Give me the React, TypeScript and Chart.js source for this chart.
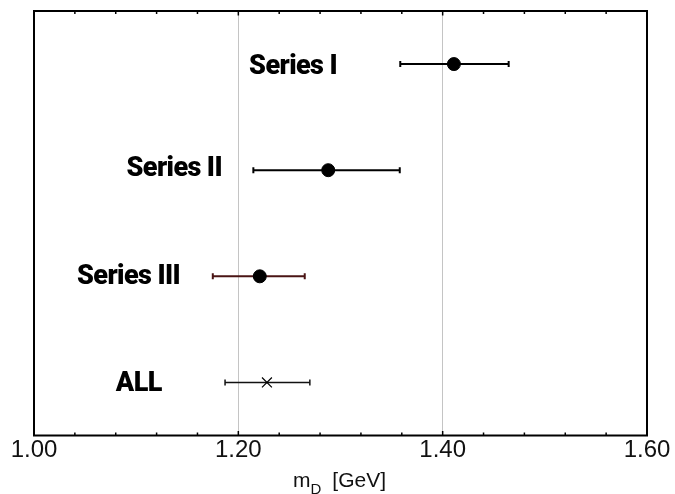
import React, { useEffect, useRef } from "react";
import { Chart, registerables } from "chart.js";

Chart.register(...registerables);

// ---- data ----
const seriesNames = ["Series I", "Series II", "Series III", "ALL"];
const rowY = [4, 3, 2, 1];
const centralValues = [1.411, 1.288, 1.221, 1.228];
const lowerValues = [1.3585, 1.2147, 1.175, 1.187];
const upperValues = [1.4646, 1.358, 1.265, 1.27];
const labelAnchorX = [1.2966, 1.184, 1.143, 1.125];
const labelAnchorY = [4.0, 3.035, 2.02, 1.01];
const xTickLabels = ["1.00", "1.20", "1.40", "1.60"];
const gridValues = [1.2, 1.4];
const xMin = 1.0;
const xMax = 1.6;
const yMin = 0.5;
const yMax = 4.5;
const minorStep = 0.04;

// ---- styles ----
const barColors = ["#000000", "#000000", "#4a1414", "#111111"];
const barWidths = [2, 2, 2, 1.5];
const markerStyles = ["circle", "circle", "circle", "crossRot"];
const markerRadii = [6.5, 6.5, 6.5, 7];

const framePlugin = {
  id: "framePlugin",
  afterDraw(chart: any) {
    const { ctx, chartArea } = chart;
    const xs = chart.scales.x;
    const ys = chart.scales.y;
    ctx.save();
    // series labels
    ctx.fillStyle = "#000";
    ctx.font = "900 27px Roboto, 'Noto Sans', sans-serif";
    try {
      (ctx as any).letterSpacing = "-0.6px";
    } catch (e) {}
    ctx.textAlign = "right";
    ctx.textBaseline = "alphabetic";
    seriesNames.forEach((name, i) => {
      const px = xs.getPixelForValue(labelAnchorX[i]);
      const py = ys.getPixelForValue(labelAnchorY[i]);
      ctx.fillText(name, px, py + 9.5);
    });
    try {
      (ctx as any).letterSpacing = "0px";
    } catch (e) {}
    // frame
    ctx.strokeStyle = "#000";
    ctx.lineWidth = 2;
    ctx.strokeRect(
      chartArea.left,
      chartArea.top,
      chartArea.right - chartArea.left,
      chartArea.bottom - chartArea.top
    );
    // inward minor / major ticks
    ctx.lineWidth = 1.5;
    const n = Math.round((xMax - xMin) / minorStep);
    for (let i = 0; i <= n; i++) {
      const v = xMin + i * minorStep;
      const px = xs.getPixelForValue(v);
      const len = i % 5 === 0 ? 4.5 : 3;
      ctx.beginPath();
      ctx.moveTo(px, chartArea.bottom);
      ctx.lineTo(px, chartArea.bottom - len);
      ctx.moveTo(px, chartArea.top);
      ctx.lineTo(px, chartArea.top + len);
      ctx.stroke();
    }
    // axis title with subscript
    const cx = (chartArea.left + chartArea.right) / 2;
    const mainFont = "21px 'Liberation Sans', Arial, sans-serif";
    const subFont = "15px 'Liberation Sans', Arial, sans-serif";
    ctx.textAlign = "left";
    ctx.font = mainFont;
    const wm = ctx.measureText("m").width;
    const wr = ctx.measureText("[GeV]").width;
    ctx.font = subFont;
    const wd = ctx.measureText("D").width;
    const gap = 11;
    const total = wm + wd + gap + wr;
    let x0 = cx - total / 2 - 1;
    const base = 487;
    ctx.fillStyle = "#111";
    ctx.font = mainFont;
    ctx.fillText("m", x0, base);
    ctx.font = subFont;
    ctx.fillText("D", x0 + wm, base + 6.5);
    ctx.font = mainFont;
    ctx.fillText("[GeV]", x0 + wm + wd + gap, base);
    ctx.restore();
  },
};

export default function App() {
  const ref = useRef<HTMLCanvasElement | null>(null);

  useEffect(() => {
    document.body.style.margin = "0";
    if (!ref.current) return;

    const errorSets = seriesNames.map((name, i) => ({
      type: "line" as const,
      label: name + " error",
      data: [
        { x: lowerValues[i], y: rowY[i] },
        { x: upperValues[i], y: rowY[i] },
      ],
      showLine: true,
      borderColor: barColors[i],
      borderWidth: barWidths[i],
      pointStyle: "line" as const,
      pointRotation: 90,
      pointRadius: 3,
      pointBorderWidth: barWidths[i],
      pointBorderColor: barColors[i],
      pointBackgroundColor: barColors[i],
      order: 2,
    }));

    const markerSet = {
      type: "scatter" as const,
      label: "central",
      data: seriesNames.map((_, i) => ({ x: centralValues[i], y: rowY[i] })),
      pointStyle: markerStyles as any,
      pointRadius: markerRadii,
      backgroundColor: "#000",
      borderColor: "#000",
      borderWidth: [1, 1, 1, 1.2],
      order: 1,
    };

    const chart = new Chart(ref.current, {
      type: "scatter",
      data: { datasets: [...errorSets, markerSet] as any },
      options: {
        animation: false,
        responsive: false,
        events: [],
        layout: { padding: { left: 34, right: 28, top: 11, bottom: 0 } },
        plugins: {
          legend: { display: false },
          tooltip: { enabled: false },
        },
        scales: {
          x: {
            type: "linear",
            min: xMin,
            max: xMax,
            afterBuildTicks: (axis: any) => {
              axis.ticks = xTickLabels.map((t) => ({ value: parseFloat(t) }));
            },
            afterFit: (axis: any) => {
              axis.height = 58.5;
            },
            ticks: {
              autoSkip: false,
              maxRotation: 0,
              padding: 0,
              color: "#111",
              font: { family: "'Liberation Sans', Arial, sans-serif", size: 24 },
              callback: (v: any) => Number(v).toFixed(2),
            },
            grid: {
              drawTicks: false,
              lineWidth: 1,
              color: (c: any) =>
                c.tick && gridValues.includes(c.tick.value) ? "#c4c4c4" : "rgba(0,0,0,0)",
            },
            border: { display: false },
          },
          y: {
            type: "linear",
            min: yMin,
            max: yMax,
            display: false,
          },
        },
      },
      plugins: [framePlugin],
    });
    return () => chart.destroy();
  }, []);

  return (
    <div style={{ width: 675, height: 494, background: "#fff" }}>
      <canvas ref={ref} width={675} height={494} style={{ display: "block" }} />
    </div>
  );
}
